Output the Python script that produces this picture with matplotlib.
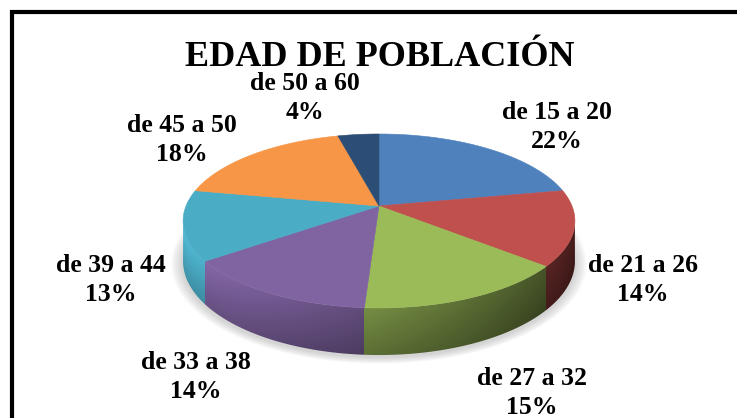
"""
plot.py - Gráfico circular 3D "EDAD DE POBLACIÓN".
"""

import numpy as np
import matplotlib
matplotlib.use("Agg")
import matplotlib.pyplot as plt
from matplotlib.patches import Polygon
from matplotlib.colors import to_rgb

# Datos
TITLE = "EDAD DE POBLACIÓN"
CATEGORIES = ["de 15 a 20", "de 21 a 26", "de 27 a 32", "de 33 a 38",
              "de 39 a 44", "de 45 a 50", "de 50 a 60"]
PERCENTS = [22, 14, 15, 14, 13, 18, 4]

# Estilo
COLORS = ["#4F81BD", "#C0504D", "#9BBB59", "#8064A2",
          "#4BACC6", "#F79646", "#2C4D75"]
LABEL_XY = [(557, 127), (643, 280), (532, 393), (196, 377),
            (111, 280), (182, 140), (305, 98)]

# Geometría del pastel (en píxeles)
CX, CY = 379, 206
A, B = 193, 84.4
P = 0.172        # perspectiva
DEPTH = 39


def project(phi, drop=0.0):
    X = np.sin(phi)
    Y = -np.cos(phi)
    s = 1.0 / (1.0 - P * Y)
    return CX + A * X * s, CY + B * Y * s + drop * s


fig = plt.figure(figsize=(7.37, 4.18), dpi=100)
ax = fig.add_axes([0, 0, 1, 1])
ax.set_xlim(0, 737)
ax.set_ylim(418, 0)
ax.axis("off")

fracs = np.array(PERCENTS, dtype=float) / sum(PERCENTS)
bounds = np.concatenate([[0], np.cumsum(fracs)]) * 2 * np.pi
base_rgb = np.array([to_rgb(c) for c in COLORS])

# Sombra difusa
phis = np.linspace(0, 2 * np.pi, 361)
bx, by = project(phis, DEPTH)
for k in range(10, 0, -1):
    g = 1 + k * 0.006
    sx = CX + (bx - CX) * g
    sy = CY + DEPTH + 2 + (by - CY - DEPTH) * g
    ax.add_patch(Polygon(np.column_stack([sx, sy]), closed=True,
                         facecolor="#808080", edgecolor="none", alpha=0.035, zorder=1))

# Lateral frontal (imagen sombreada recortada a la silueta)
phi_r = np.arccos(-P)
phi_l = 2 * np.pi - phi_r
front = np.linspace(phi_r, phi_l, 600)
tx, ty = project(front)
_, bot_y = project(front, DEPTH)
side_poly = np.vstack([np.column_stack([tx, ty]),
                       np.column_stack([tx[::-1], bot_y[::-1]])])

x0, x1 = int(tx.min()) - 2, int(tx.max()) + 3
y0, y1 = int(ty.min()) - 2, int(bot_y.max()) + 3
xs = np.arange(x0, x1) + 0.5
ys = np.arange(y0, y1) + 0.5
col_phi = np.interp(xs, tx[::-1], front[::-1])
col_top = np.interp(xs, tx[::-1], ty[::-1])
col_bot = np.interp(xs, tx[::-1], bot_y[::-1])
idx = np.clip(np.searchsorted(bounds, col_phi) - 1, 0, len(COLORS) - 1)
Xc = np.sin(col_phi)
shade = np.clip(0.64 - 0.32 * Xc, 0.3, 0.97)
t = (ys[:, None] - col_top[None, :]) / (col_bot - col_top)[None, :]
t = np.clip(t, 0, 1)
rowf = 1.15 - 0.25 * t
img = base_rgb[idx][None, :, :] * (shade[None, :, None] * rowf[:, :, None])
img = np.clip(img, 0, 1)
im = ax.imshow(img, extent=(x0, x1, y1, y0), interpolation="bilinear",
               aspect="auto", zorder=2)
clip = Polygon(side_poly, closed=True, transform=ax.transData)
im.set_clip_path(clip)

# Caras superiores
for i, col in enumerate(COLORS):
    arc = np.linspace(bounds[i], bounds[i + 1], 120)
    x, y = project(arc)
    pts = np.vstack([[CX, CY], np.column_stack([x, y])])
    ax.add_patch(Polygon(pts, closed=True, facecolor=col, edgecolor=col,
                         linewidth=0.4, zorder=3))

# Etiquetas
for cat, pct, (lx, ly) in zip(CATEGORIES, PERCENTS, LABEL_XY):
    ax.text(lx, ly, f"{cat}\n{pct}%", ha="center", va="center",
            multialignment="center", fontsize=18.5, fontweight="bold",
            family="Liberation Serif", linespacing=1.38, zorder=5)

ax.text(379.5, 66, TITLE, ha="center", va="baseline", fontsize=26,
        fontweight="bold", family="Liberation Serif", zorder=5)

# Marco
ax.plot([12, 12, 745], [425, 11.5, 11.5], color="black", lw=3,
        solid_joinstyle="miter", clip_on=False, zorder=6)

fig.savefig("out.png", dpi=100)
